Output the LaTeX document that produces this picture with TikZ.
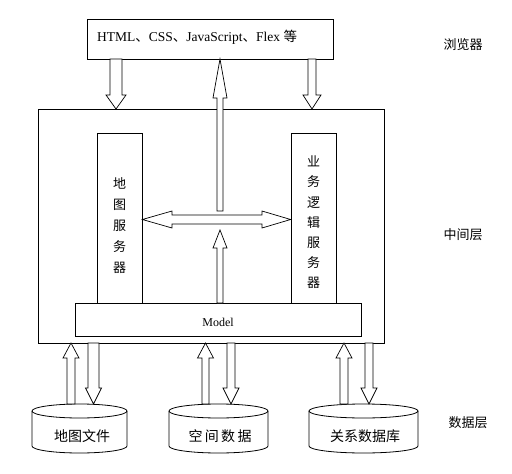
\documentclass[tikz,border=0pt]{standalone}
\usepackage{fontspec}
\setmainfont{Liberation Serif}
\newfontfamily\cjk{Noto Sans CJK SC}
\newcommand{\varr}[6]{% x, ytail, ytip, half shaft, half head, head base y
  \draw[arr] (#1-#4,#2) -- (#1-#4,#6) -- (#1-#5,#6) -- (#1,#3) -- (#1+#5,#6) -- (#1+#4,#6) -- (#1+#4,#2) -- cycle;}
\newcommand{\cyl}[5]{% xl, xr, ytop, ybot, name
  \pgfmathsetmacro{\rx}{(#2-#1)/2}
  \draw[line width=0.8pt, fill=white] (#1,#3) -- (#1,#4) arc[start angle=180, end angle=360, x radius=\rx pt, y radius=7pt] -- (#2,#3);
  \draw[line width=0.8pt] ({(#1+#2)/2},#3) ellipse[x radius=\rx pt, y radius=7pt];
  \coordinate (#5) at ({(#1+#2)/2},#3);}
\begin{document}
\begin{tikzpicture}[x=1pt,y=-1pt,
  box/.style={draw,line width=0.8pt,inner sep=0pt,fill=white},
  arr/.style={draw,fill=white,line width=0.7pt,line join=miter},
  cjktext/.style={font=\cjk\fontsize{13}{14}\selectfont, inner sep=0pt}]
\useasboundingbox (0,0) rectangle (512,474);
% browser box
\node[box,minimum width=246pt,minimum height=40pt] (browser) at (210,39) {};
\node[anchor=west,inner sep=0pt,font=\fontsize{13.5}{14}\selectfont] (btext) at (97,37) {HTML{\cjk 、}CSS{\cjk 、}JavaScript{\cjk 、}Flex {\cjk 等}};
% middle box
\node[box,minimum width=346pt,minimum height=234pt] (mid) at (211,226) {};
\node[box,minimum width=45pt,minimum height=170pt] (map) at (119.5,218) {};
\node[box,minimum width=45pt,minimum height=170pt] (biz) at (313.5,218) {};
\node[box,minimum width=286pt,minimum height=33pt] (model) at (218,319.5) {};
\node[inner sep=0pt,font=\fontsize{12}{13}\selectfont] (mtext) at (218,322) {Model};
\node[cjktext,align=center,font=\cjk\fontsize{13}{21}\selectfont] (maptext) at (119.5,226) {地\\图\\服\\务\\器};
\node[cjktext,align=center,font=\cjk\fontsize{13}{20.2}\selectfont] (biztext) at (313.5,222.5) {业\\务\\逻\\辑\\服\\务\\器};
% arrows between browser and middle
\varr{116}{59}{109}{6}{10}{95}
\varr{312}{59}{109}{4}{9}{95}
\varr{220}{211}{59}{3}{7}{98}
\varr{220}{303}{230}{3}{7}{248}
\draw[arr] (map.east |- 0,219.5) -- (172,211) -- (172,215) -- (262,215) -- (262,211) -- (biz.west |- 0,219.5) -- (262,228) -- (262,224) -- (172,224) -- (172,228) -- cycle;
% cylinders
\cyl{32}{127}{411}{446}{c1}
\cyl{169}{268}{411}{446}{c2}
\cyl{309}{418}{411}{446}{c3}
\node[cjktext,font=\cjk\fontsize{14}{15}\selectfont] (t1) at (82,436) {地图文件};
\node[cjktext,font=\cjk\fontsize{14}{15}\selectfont] (t2) at (220,436) {空\,间\,数\,据};
\node[cjktext,font=\cjk\fontsize{14}{15}\selectfont] (t3) at (365,436) {关系数据库};
% arrows between middle and data
\varr{71}{404}{343}{4}{8}{358}
\varr{93.5}{343}{404}{5.5}{8}{388}
\varr{205.5}{404}{343}{3.5}{8}{358}
\varr{231}{343}{404}{4}{8}{388}
\varr{344}{404}{343}{4}{8}{358}
\varr{369}{343}{404}{4}{8}{388}
% layer labels
\node[cjktext] (l1) at (463,45) {浏览器};
\node[cjktext] (l2) at (463,235) {中间层};
\node[cjktext] (l3) at (468,423) {数据层};
\end{tikzpicture}
\end{document}
